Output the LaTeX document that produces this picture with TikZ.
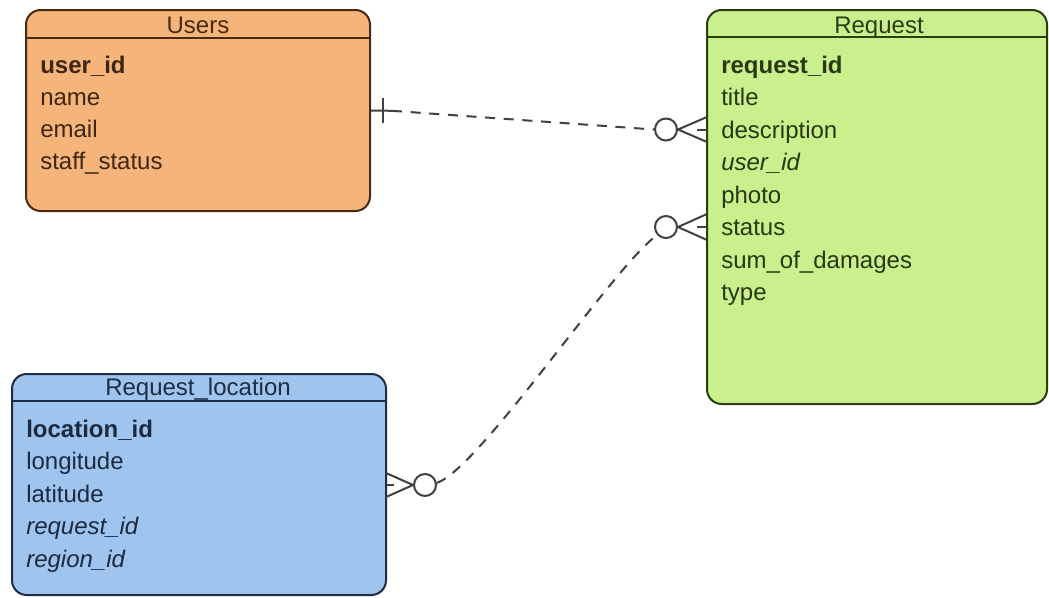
\documentclass[tikz,border=0pt]{standalone}
\usepackage{fontspec}
\setmainfont{Liberation Sans}
\definecolor{usersfill}{RGB}{244,180,122}
\definecolor{usersline}{RGB}{72,42,18}
\definecolor{userstext}{RGB}{62,38,18}
\definecolor{reqfill}{RGB}{201,240,141}
\definecolor{reqline}{RGB}{44,60,20}
\definecolor{reqtext}{RGB}{40,56,16}
\definecolor{locfill}{RGB}{159,196,238}
\definecolor{locline}{RGB}{30,44,68}
\definecolor{loctext}{RGB}{28,42,64}
\definecolor{linegray}{RGB}{64,64,64}
\begin{document}
\begin{tikzpicture}[x=0.75pt,y=-0.75pt,
  entity/.style={draw, line width=1.5pt, rounded corners=11pt, inner sep=0pt},
  field/.style={anchor=base west, inner sep=0pt, font=\fontsize{18}{20}\selectfont},
  etitle/.style={anchor=base, inner sep=0pt, font=\fontsize{18}{20}\selectfont},
  rel/.style={draw=linegray, line width=1.5pt, dash pattern=on 7.5pt off 6.5pt},
  foot/.style={draw=linegray, line width=1.5pt},
  zero/.style={circle, draw=linegray, line width=1.5pt, fill=white, minimum size=16.5pt, inner sep=0pt},
]
\useasboundingbox (0,0) rectangle (1049,597);

% entity boxes
\node[entity, fill=usersfill, draw=usersline, minimum width=258pt, minimum height=150.75pt] (users) at (198,110.5) {};
\node[entity, fill=reqfill, draw=reqline, minimum width=255pt, minimum height=295.5pt] (request) at (877,207) {};
\node[entity, fill=locfill, draw=locline, minimum width=280.5pt, minimum height=165.75pt] (location) at (199,484.5) {};

% header separators
\draw[usersline, line width=1.5pt] (users.west |- 0,38) -- (users.east |- 0,38);
\draw[reqline, line width=1.5pt] (request.west |- 0,37) -- (request.east |- 0,37);
\draw[locline, line width=1.5pt] (location.west |- 0,401) -- (location.east |- 0,401);

% titles
\node[etitle, text=usersline] (usersT) at (198,33) {Users};
\node[etitle, text=reqline] (requestT) at (879,33) {Request};
\node[etitle, text=locline] (locationT) at (198,395) {Request\_location};

% Users attributes
\begin{scope}[every node/.style={field, text=userstext}]
\node (u1) at (40,73) {\textbf{user\_id}};
\node (u2) at (40,105.3) {name};
\node (u3) at (40,137.6) {email};
\node (u4) at (40,169.9) {staff\_status};
\end{scope}

% Request attributes
\begin{scope}[every node/.style={field, text=reqtext}]
\node (r1) at (721,73) {\textbf{request\_id}};
\node (r2) at (721,105.5) {title};
\node (r3) at (721,138) {description};
\node (r4) at (721,170.5) {\textit{user\_id}};
\node (r5) at (721,203) {photo};
\node (r6) at (721,235.5) {status};
\node (r7) at (721,268) {sum\_of\_damages};
\node (r8) at (721,300.5) {type};
\end{scope}

% Request_location attributes
\begin{scope}[every node/.style={field, text=loctext}]
\node (l1) at (26,437) {\textbf{location\_id}};
\node (l2) at (26,469.5) {longitude};
\node (l3) at (26,502) {latitude};
\node (l4) at (26,534.5) {\textit{request\_id}};
\node (l5) at (26,567) {\textit{region\_id}};
\end{scope}

% Users (one) -- Request (zero or many)
\coordinate (ubar) at (383,110.5);
\coordinate (udash) at (392,110.8);
\node[zero] (z1) at (666,129.5) {};
\coordinate (rf1a) at (707,117);
\coordinate (rf1m) at (707,129.5);
\coordinate (rf1b) at (707,142);
\coordinate (rf1s) at (697,129.5);
\draw[foot] (users.east) -- (udash);
\draw[foot] (ubar |- 0,98) -- (ubar |- 0,123);
\draw[rel] (udash) -- (z1.west);
\draw[foot] (rf1a) -- (z1.east) -- (rf1b);
\draw[foot] (rf1s) -- (rf1m);

% Request (zero or many) -- Request_location (zero or many)
\node[zero] (z2) at (666,227) {};
\coordinate (rf2a) at (707,214);
\coordinate (rf2m) at (707,227);
\coordinate (rf2b) at (707,240);
\coordinate (rf2s) at (697,227);
\draw[foot] (rf2a) -- (z2.east) -- (rf2b);
\draw[foot] (rf2s) -- (rf2m);

\node[zero] (z3) at (425,485) {};
\coordinate (lfa) at (386,473);
\coordinate (lfm) at (386,485);
\coordinate (lfb) at (386,497);
\coordinate (lfs) at (394,485);
\draw[foot] (lfa) -- (z3.west) -- (lfb);
\draw[foot] (lfm) -- (lfs);

\draw[rel] (z3.10) .. controls (480,468) and (612,268) .. (z2.222);
\end{tikzpicture}
\end{document}
